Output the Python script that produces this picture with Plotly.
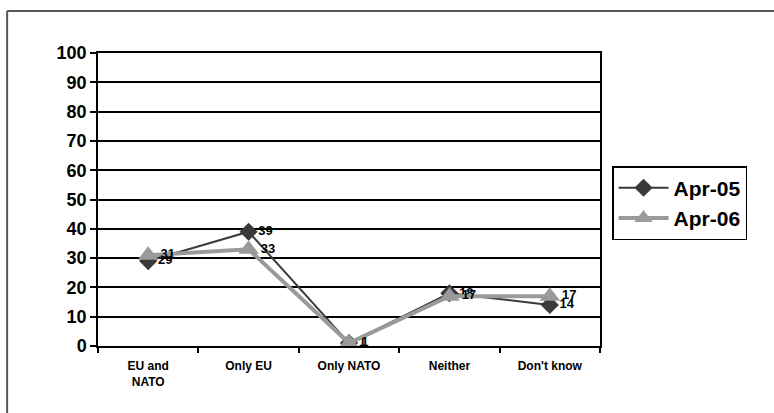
import plotly.graph_objects as go

categories = ["EU and<br>NATO", "Only EU", "Only NATO", "Neither", "Don't know"]
apr05 = [29, 39, 1, 18, 14]
apr06 = [31, 33, 1, 17, 17]
y_ticks = [0, 10, 20, 30, 40, 50, 60, 70, 80, 90, 100]

FONT = "Arial, Liberation Sans, sans-serif"

fig = go.Figure()
fig.add_trace(go.Scatter(
    x=categories, y=apr05, name="Apr-05", mode="lines+markers+text",
    line=dict(color="#3a3a3a", width=2),
    marker=dict(symbol="diamond", size=14, color="#3a3a3a"),
    text=[str(v) for v in apr05], textposition="middle right",
    textfont=dict(family=FONT, size=13, color="black", weight="bold"),
))
fig.add_trace(go.Scatter(
    x=categories, y=apr06, name="Apr-06", mode="lines+markers+text",
    line=dict(color="#9a9a9a", width=4),
    marker=dict(symbol="triangle-up", size=18, color="#9a9a9a"),
    text=[str(v) for v in apr06], textposition="middle right",
    textfont=dict(family=FONT, size=13, color="black", weight="bold"),
))

# outer frame (top and left edges visible)
fig.add_shape(type="line", xref="paper", yref="paper", x0=-0.181, x1=1.5, y0=1.143, y1=1.143,
              line=dict(color="#555555", width=2))
fig.add_shape(type="line", xref="paper", yref="paper", x0=-0.181, x1=-0.181, y0=1.143, y1=-0.3,
              line=dict(color="#555555", width=2))

fig.update_layout(
    width=774, height=413,
    margin=dict(l=98, r=174, t=53, b=67),
    paper_bgcolor="white", plot_bgcolor="white",
    font=dict(family=FONT, color="black"),
    showlegend=True,
    legend=dict(x=1.024, y=0.614, xanchor="left", yanchor="top",
                bordercolor="black", borderwidth=1.5,
                font=dict(family=FONT, size=21, color="black", weight="bold"),
                tracegroupgap=4, itemwidth=50),
    xaxis=dict(type="category", range=[-0.5, 4.5], tickson="boundaries",
               ticks="outside", ticklen=5, tickcolor="black", tickwidth=1.5,
               ticklabelstandoff=8,
               showgrid=False, showline=True, linecolor="black", linewidth=1.5, mirror=True,
               tickfont=dict(family=FONT, size=12, color="black", weight="bold")),
    yaxis=dict(range=[0, 100], tickvals=y_ticks, ticks="outside", ticklen=6,
               tickcolor="black", tickwidth=1.5,
               showgrid=True, gridcolor="black", gridwidth=1.5,
               showline=True, linecolor="black", linewidth=1.5, mirror=True,
               zeroline=False,
               tickfont=dict(family=FONT, size=18, color="black", weight="bold")),
)

fig.write_html("out.html")
